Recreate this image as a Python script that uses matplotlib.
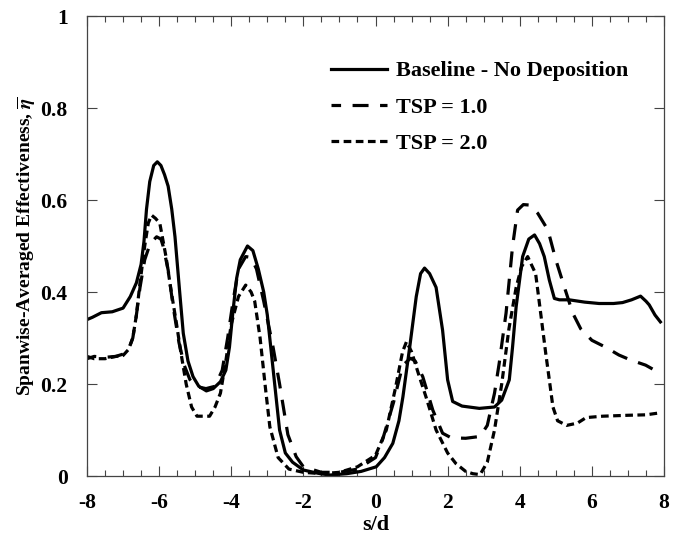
import matplotlib
matplotlib.use("Agg")
import matplotlib.pyplot as plt
from matplotlib.ticker import MultipleLocator, FixedLocator

plt.rcParams['font.family'] = ['Liberation Serif', 'DejaVu Serif']
plt.rcParams['font.weight'] = 'bold'
plt.rcParams['mathtext.fontset'] = 'stix'
plt.rcParams['axes.unicode_minus'] = False

# Baseline - No Deposition
base_x = [-8.0, -7.85, -7.6, -7.3, -7.0, -6.8, -6.63, -6.5, -6.42, -6.35, -6.26, -6.15, -6.05, -5.95, -5.85,
          -5.75, -5.65, -5.56, -5.43, -5.33, -5.2, -5.06, -4.9, -4.69, -4.5, -4.3, -4.15, -4.05, -3.95, -3.85,
          -3.75, -3.55, -3.4, -3.25, -3.1, -3.0, -2.85, -2.66, -2.5, -2.3, -2.0, -1.6, -1.27, -0.8, -0.4,
          0.02, 0.25, 0.48, 0.65, 0.76, 0.95, 1.13, 1.25, 1.36, 1.5, 1.68, 1.86, 2.0, 2.14, 2.4,
          2.88, 3.3, 3.5, 3.71, 3.8, 3.9, 4.08, 4.25, 4.41, 4.55, 4.68, 4.82, 4.96, 5.1, 5.37, 5.8,
          6.2, 6.6, 6.85, 7.1, 7.35, 7.5, 7.59, 7.75, 7.9]
base_y = [0.340, 0.345, 0.355, 0.357, 0.365, 0.39, 0.42, 0.46, 0.51, 0.58, 0.64, 0.675, 0.683, 0.675, 0.655,
          0.63, 0.58, 0.52, 0.40, 0.31, 0.25, 0.216, 0.195, 0.185, 0.19, 0.205, 0.23, 0.28, 0.36, 0.43,
          0.47, 0.50, 0.49, 0.45, 0.40, 0.35, 0.24, 0.10, 0.05, 0.03, 0.013, 0.006, 0.002, 0.005, 0.01,
          0.02, 0.04, 0.071, 0.12, 0.172, 0.281, 0.39, 0.44, 0.452, 0.44, 0.41, 0.317, 0.209, 0.162, 0.152,
          0.147, 0.15, 0.165, 0.209, 0.28, 0.368, 0.477, 0.515, 0.524, 0.505, 0.477, 0.426, 0.386, 0.383, 0.383, 0.378,
          0.375, 0.375, 0.377, 0.383, 0.391, 0.38, 0.372, 0.35, 0.335]

# TSP = 1.0
tsp1_x = [-8.0, -7.8, -7.5, -7.2, -7.0, -6.85, -6.73, -6.63, -6.53, -6.4, -6.25, -6.07, -5.95, -5.89,
          -5.75, -5.61, -5.45, -5.3, -5.15, -5.0, -4.7, -4.45, -4.25, -4.1, -3.95, -3.8, -3.6, -3.45,
          -3.3, -3.1, -2.84, -2.66, -2.43, -2.2, -2.0, -1.5, -1.0, -0.5, 0.0, 0.2, 0.5, 0.75, 0.97,
          1.1, 1.31, 1.59, 1.86, 2.1, 2.5, 2.9, 3.1, 3.3, 3.43, 3.62, 3.8, 3.94, 4.1, 4.27, 4.5, 4.78,
          5.0, 5.24, 5.47, 5.69, 6.0, 6.38, 6.75, 7.08, 7.49, 7.9]
tsp1_y = [0.255, 0.26, 0.258, 0.26, 0.265, 0.275, 0.30, 0.35, 0.41, 0.47, 0.505, 0.52, 0.515, 0.50,
          0.448, 0.368, 0.29, 0.24, 0.21, 0.195, 0.19, 0.195, 0.23, 0.3, 0.38, 0.45, 0.477, 0.475,
          0.45, 0.38, 0.28, 0.20, 0.09, 0.042, 0.02, 0.008, 0.008, 0.015, 0.04, 0.08, 0.16, 0.24, 0.256,
          0.25, 0.216, 0.143, 0.093, 0.083, 0.082, 0.086, 0.11, 0.18, 0.245, 0.354, 0.499, 0.578, 0.59, 0.589, 0.571, 0.535,
          0.47, 0.41, 0.354, 0.32, 0.295, 0.28, 0.263, 0.252, 0.241, 0.223]

# TSP = 2.0
tsp2_x = [-8.0, -7.8, -7.5, -7.2, -7.0, -6.85, -6.73, -6.63, -6.53, -6.4, -6.3, -6.21, -6.1, -5.98,
          -5.81, -5.67, -5.52, -5.4, -5.25, -5.1, -4.95, -4.6, -4.45, -4.3, -4.15, -4.0, -3.8, -3.6,
          -3.45, -3.35, -3.2, -3.05, -2.93, -2.7, -2.4, -2.0, -1.5, -1.0, -0.5, 0.0, 0.3, 0.55, 0.75,
          0.86, 1.0, 1.2, 1.4, 1.68, 2.0, 2.23, 2.5, 2.7, 2.9, 3.1, 3.3, 3.5, 3.7, 3.9, 4.05, 4.22,
          4.32, 4.44, 4.58, 4.72, 4.82, 4.92, 5.05, 5.3, 5.6, 5.84, 6.3, 7.0, 7.5, 7.86]
tsp2_y = [0.26, 0.255, 0.255, 0.26, 0.262, 0.275, 0.30, 0.35, 0.42, 0.50, 0.55, 0.567, 0.56, 0.549,
          0.477, 0.404, 0.332, 0.27, 0.2, 0.15, 0.13, 0.13, 0.15, 0.18, 0.25, 0.33, 0.39, 0.415,
          0.40, 0.38, 0.30, 0.19, 0.107, 0.04, 0.015, 0.008, 0.005, 0.008, 0.02, 0.045, 0.1, 0.19, 0.27,
          0.292, 0.27, 0.22, 0.172, 0.1, 0.05, 0.027, 0.01, 0.005, 0.003, 0.03, 0.1, 0.2, 0.32, 0.41, 0.455, 0.477,
          0.46, 0.44, 0.354, 0.267, 0.209, 0.15, 0.12, 0.11, 0.115, 0.127, 0.13, 0.132, 0.133, 0.137]

labels = ["Baseline - No Deposition", "TSP = 1.0", "TSP = 2.0"]
x_ticks = [-8, -6, -4, -2, 0, 2, 4, 6, 8]
y_ticks = [0, 0.2, 0.4, 0.6, 0.8, 1]
y_tick_labels = ["0", "0.2", "0.4", "0.6", "0.8", "1"]

fig = plt.figure(figsize=(6.73, 5.54), dpi=100)
ax = fig.add_axes([87/673, 1 - 476/554, (664 - 87)/673, (476 - 16)/554])

lw = 2.3
ax.plot(base_x, base_y, color='black', lw=lw, linestyle='-', label=labels[0])
ax.plot(tsp1_x, tsp1_y, color='black', lw=lw, linestyle=(2.0, (5.0, 3.6)), label=labels[1])
ax.plot(tsp2_x, tsp2_y, color='black', lw=lw, linestyle=(0, (2.4, 1.4)), label=labels[2])

ax.set_xlim(-8, 8)
ax.set_ylim(0, 1)
ax.xaxis.set_major_locator(FixedLocator(x_ticks))
ax.xaxis.set_minor_locator(MultipleLocator(0.5))
ax.set_yticks(y_ticks)
ax.set_yticklabels(y_tick_labels)
ax.tick_params(which='both', direction='in', top=True, right=True, labelsize=15.5, width=0.8, color='#444')
ax.tick_params(which='major', length=7)
ax.tick_params(which='minor', length=4)
ax.tick_params(axis='y', pad=14)
ax.tick_params(axis='x', pad=12)
for lab in ax.get_xticklabels() + ax.get_yticklabels():
    lab.set_fontweight('bold')
for s in ax.spines.values():
    s.set_linewidth(0.9)
    s.set_color('#444')

ax.set_xlabel("s/d", fontsize=16, fontweight='bold', labelpad=2)
ax.set_ylabel(r"Spanwise-Averaged Effectiveness, $\overline{\eta}$", fontsize=14, fontweight='bold', labelpad=2)

leg = ax.legend(loc='upper left', bbox_to_anchor=(0.408, 0.922), frameon=False, fontsize=16,
                handlelength=2.5, handletextpad=0.4, labelspacing=0.71, borderaxespad=0)
for t in leg.get_texts():
    t.set_fontweight('bold')

fig.savefig("out.png", dpi=100)
